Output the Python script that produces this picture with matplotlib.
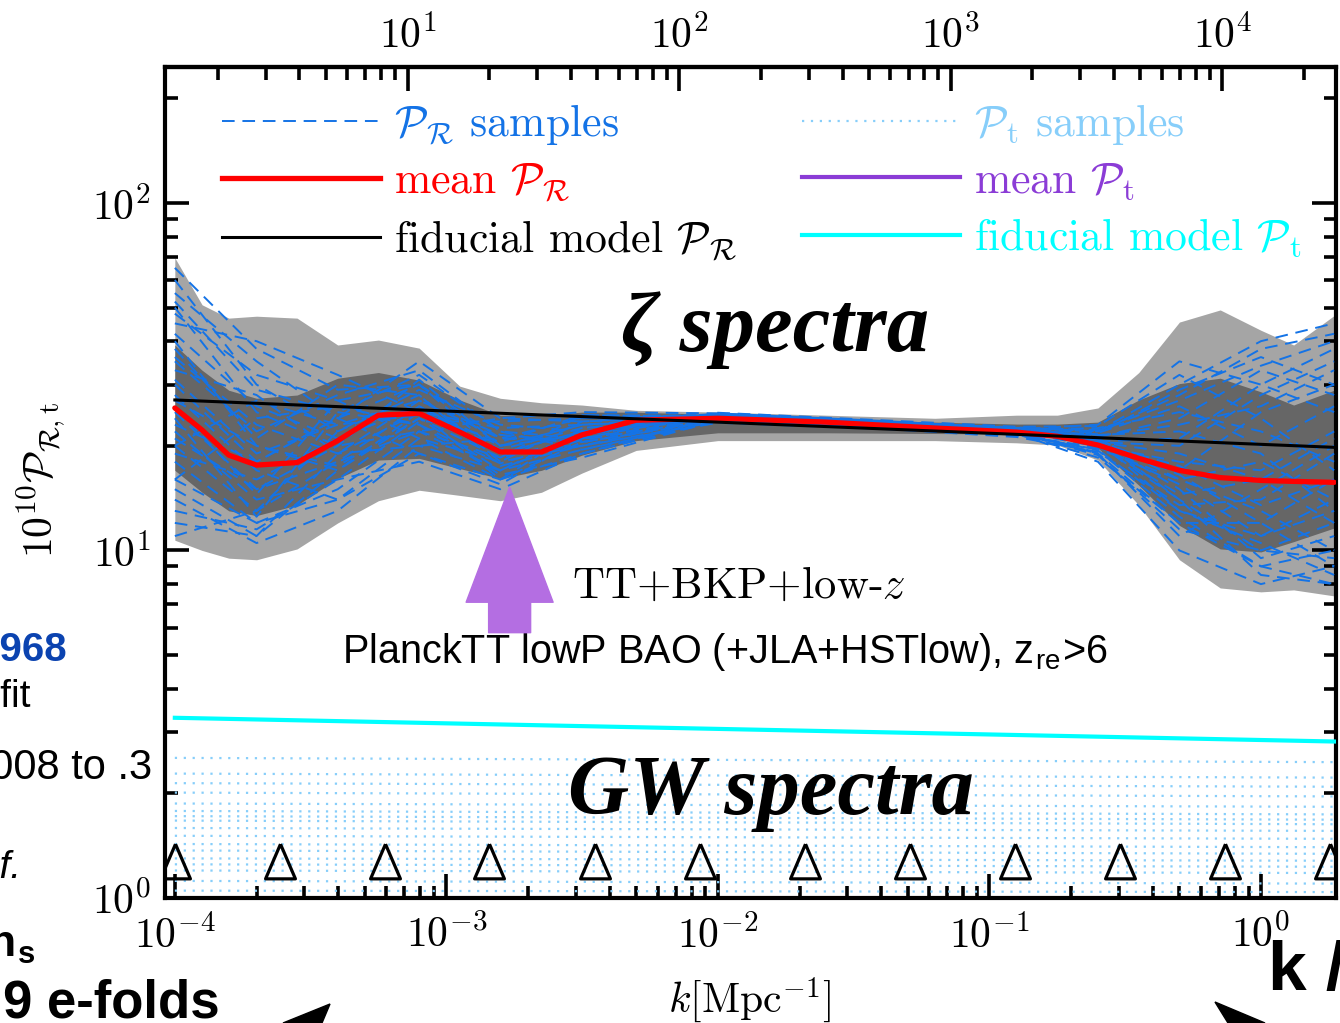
import numpy as np
import matplotlib.pyplot as plt
from matplotlib.lines import Line2D
from matplotlib.patches import Polygon

plt.rcParams['font.family'] = ['cmr10', 'DejaVu Serif']
plt.rcParams['mathtext.fontset'] = 'cm'
plt.rcParams['axes.formatter.use_mathtext'] = True

# ---- data ----
# shaded credible bands of P_R (x 1e10)
band_k = [1.0e-4, 1.26e-4, 1.58e-4, 2.0e-4, 2.82e-4, 3.98e-4, 5.62e-4, 7.94e-4, 1.12e-3,
          1.58e-3, 2.24e-3, 3.16e-3, 5.0e-3, 1.0e-2, 2.5e-2, 6.3e-2, 0.126, 0.178, 0.251,
          0.355, 0.501, 0.708, 1.0, 1.32, 1.86]
outer_hi = [69.5, 50.9, 46.6, 47.2, 46.6, 39.0, 40.3, 38.2, 29.7, 27.4, 26.6, 26.2, 25.3,
            25.0, 24.5, 24.0, 24.5, 24.5, 25.7, 32.5, 45.4, 49.2, 43.0, 39.0, 47.4]
outer_lo = [10.7, 10.0, 9.5, 9.4, 10.1, 12.0, 13.9, 14.9, 14.4, 13.9, 14.7, 16.7, 19.4,
            20.7, 20.7, 20.7, 20.4, 20.1, 18.2, 13.5, 9.4, 7.8, 7.6, 7.7, 7.4]
inner_hi = [39.0, 33.0, 28.9, 27.4, 28.0, 31.3, 32.5, 30.9, 27.1, 24.5, 24.5, 25.0, 25.0,
            24.6, 24.0, 23.4, 23.1, 23.1, 23.4, 27.1, 30.2, 31.3, 28.6, 26.2, 28.9]
inner_lo = [17.0, 14.7, 13.0, 12.6, 13.5, 16.1, 18.2, 18.4, 17.2, 16.1, 17.0, 18.8, 20.7,
            21.8, 21.8, 21.7, 21.6, 21.3, 19.7, 15.4, 11.8, 10.1, 9.9, 10.6, 11.6]
mean_pr = [25.7, 22.2, 18.8, 17.6, 17.9, 20.7, 24.5, 24.8, 21.9, 19.2, 19.2, 21.5, 23.7,
           24.0, 23.4, 22.5, 21.9, 21.3, 20.1, 18.4, 17.0, 16.2, 15.9, 15.8, 15.7]

# individual P_R samples
samp_k = [1e-4, 2e-4, 3.98e-4, 7.94e-4, 1.58e-3, 3.16e-3, 1e-2, 3.98e-2, 0.126, 0.251, 0.501, 1.0, 1.86]
pr_samples = [
    [60, 30, 22, 28, 18, 20, 24.5, 23.5, 22.5, 22, 30, 40, 45],
    [18, 12, 15, 22, 17, 22, 24, 23, 22, 21, 14, 10, 12],
    [35, 22, 28, 33, 22, 21, 24.2, 23.2, 22, 19, 12, 9, 8],
    [25, 15, 18, 26, 20, 23, 23.8, 22.8, 21.8, 20.5, 20, 28, 35],
    [45, 40, 32, 25, 16, 19, 24.3, 23, 21.5, 19.5, 13, 11, 14],
    [14, 10.5, 13, 20, 21, 24, 24.6, 23.4, 22.2, 22.5, 25, 22, 18],
    [30, 18, 24, 30, 19, 20, 23.5, 22.6, 21.7, 18, 10, 8, 9],
    [22, 14, 16, 18, 15, 19, 23.6, 22.7, 22.3, 23, 35, 30, 25],
    [50, 25, 20, 22, 24, 25, 24.8, 23.6, 22.4, 21, 16, 13, 10],
    [12, 11, 19, 27, 21, 20.5, 23.9, 23.1, 22.1, 20, 18, 17, 22],
    [40, 20, 17, 24, 17, 21.5, 24.1, 22.9, 21.9, 19, 11, 15, 20],
    [20, 13, 22, 29, 23, 22, 24.4, 23.3, 22.6, 22, 28, 38, 42],
    [28, 17, 14, 21, 18, 23.5, 24.7, 23.5, 22.2, 20.8, 15, 9.5, 11],
    [16, 24, 26, 23, 16.5, 18.5, 23.7, 22.9, 21.6, 18.5, 12, 12, 16],
    [33, 28, 19, 25, 20.5, 24.5, 24.2, 23.2, 22.3, 21.5, 22, 19, 13],
    [24, 12.5, 25, 32, 22, 19.5, 23.4, 22.5, 21.4, 19.8, 17, 25, 30],
    [55, 35, 24, 19, 15.5, 21, 24.9, 23.7, 22.7, 22.8, 32, 24, 17],
    [19, 16, 21, 26, 19.5, 22.5, 24, 23, 22, 20.2, 14, 8.5, 8],
    [38, 21, 30, 28, 17.5, 20, 23.3, 22.4, 21.2, 19.2, 13.5, 14, 19],
    [13, 11.5, 16, 23.5, 23.5, 24, 24.5, 23.4, 22.5, 21.2, 24, 33, 28],
    [27, 20, 17.5, 24, 18.5, 21, 23.9, 23, 22, 20.5, 19, 16, 12],
    [48, 32, 27, 21, 16, 22.5, 24.3, 23.1, 21.8, 18.8, 11.5, 10, 9.5],
    [21, 15, 20, 31, 20, 23, 24.1, 23.3, 22.4, 21.8, 26, 20, 26],
    [31, 19, 23, 27, 21.5, 20.5, 23.6, 22.6, 21.5, 19.6, 16, 18, 14],
    [42, 26, 21, 26, 19, 22, 24.1, 23.2, 22.1, 20.6, 21, 30, 38],
    [16, 12, 14, 19, 16, 20.5, 23.8, 22.8, 21.7, 19.4, 12.5, 9, 10],
    [65, 38, 29, 30, 20, 21.5, 24.6, 23.5, 22.5, 22.2, 27, 34, 40],
    [23, 18, 24, 35, 24, 23.5, 24.2, 23.2, 22.2, 20.9, 16.5, 12, 9],
    [11, 13, 18, 22, 18.5, 24.5, 24.4, 23.3, 22.1, 21.4, 23, 26, 33],
    [36, 23, 19, 20, 17, 19.5, 23.7, 22.8, 21.9, 20.1, 14.5, 16, 21],
    [26, 14.5, 27, 30, 21, 21, 24.0, 23.0, 22.0, 19.9, 15.5, 11, 13],
    [20, 27, 23, 24.5, 19, 22, 24.2, 23.1, 21.9, 21.6, 29, 36, 30],
    [52, 29, 25, 23, 17.8, 20.8, 23.9, 22.9, 21.8, 20.3, 17.5, 13.5, 16],
    [15, 11, 17, 25, 22.5, 23, 24.3, 23.3, 22.3, 20.7, 13, 10.5, 8.5],
]

# fiducial power laws (straight lines in log-log)
fid_k = [1e-4, 1.86]
fid_pr = [27.1, 19.8]
fid_pt = [3.30, 2.82]

# tensor samples (nearly flat), value at left and right end
pt_left = [2.53, 2.28, 2.14, 2.01, 1.87, 1.78, 1.72, 1.67, 1.59, 1.51, 1.43, 1.37, 1.30, 1.25, 1.20, 1.12, 1.05]
pt_right = [2.46, 2.22, 2.09, 1.96, 1.83, 1.74, 1.68, 1.63, 1.56, 1.48, 1.40, 1.34, 1.28, 1.23, 1.18, 1.10, 1.04]

# spline knot positions (triangles)
knot_k = [1.0e-4, 2.44e-4, 5.93e-4, 1.44e-3, 3.52e-3, 8.58e-3, 2.09e-2, 5.09e-2, 0.124, 0.303, 0.736, 1.79]
knot_p = 1.274

chi_star = 13900.0  # Mpc, ell = k * chi

c_blue = '#1473e6'
c_light = '#87cefa'
c_purple = '#8b3cd6'

fig = plt.figure(figsize=(13.4, 10.23), dpi=100)
ax = fig.add_axes([165 / 1340, 1 - 898 / 1023, 1171 / 1340, 831 / 1023])
ax.set_xscale('log')
ax.set_yscale('log')

ax.fill_between(band_k, outer_lo, outer_hi, color='#a5a5a5', lw=0, zorder=1)
ax.fill_between(band_k, inner_lo, inner_hi, color='#666666', lw=0, zorder=2)

for s in pr_samples:
    ax.plot(samp_k, s, color=c_blue, lw=1.4, ls=(0, (6.5, 4)), zorder=3)
for a, b in zip(pt_left, pt_right):
    ax.plot(fid_k, [a, b], color=c_light, lw=1.6, ls=(0, (1, 3)), zorder=3)

ax.plot(band_k, mean_pr, color='red', lw=3.8, zorder=5, solid_capstyle='round')
ax.plot(fid_k, fid_pr, color='black', lw=2.2, zorder=6)
ax.plot(fid_k, fid_pt, color='cyan', lw=3.0, zorder=6)

tri = [(0, 1), (-0.86, -1), (0.86, -1), (0, 1)]
ax.plot(knot_k, [knot_p] * len(knot_k), ls='none', marker=tri, ms=25, mfc='none',
        mec='black', mew=2.3, zorder=7)

ax.set_xlim(9.2e-5, 1.89)
ax.set_ylim(1, 246)

for sp in ax.spines.values():
    sp.set_linewidth(3)
ax.tick_params(axis='both', which='both', direction='in', width=2.6, labelsize=30)
ax.tick_params(axis='x', which='both', top=False, pad=12)
ax.tick_params(axis='y', which='both', right=True, pad=10)
ax.tick_params(which='major', length=17)
ax.tick_params(which='minor', length=9)

secax = ax.secondary_xaxis('top', functions=(lambda k: k * chi_star, lambda l: l / chi_star))
secax.tick_params(which='both', direction='in', width=2.6, labelsize=30, pad=8)
secax.tick_params(which='major', length=17)
secax.tick_params(which='minor', length=9)
secax.spines['top'].set_linewidth(3)

ax.set_xlabel(r'$k[\mathrm{Mpc}^{-1}]$', fontsize=30)
ax.xaxis.set_label_coords(0.4996, -0.093)
ax.set_ylabel(r'$10^{10}\mathcal{P}_{\mathcal{R},\mathrm{t}}$', fontsize=30)
ax.yaxis.set_label_coords(-0.084, 0.503)

handles = [
    Line2D([], [], color=c_blue, lw=1.4, ls=(0, (6.5, 4))),
    Line2D([], [], color='red', lw=3.8),
    Line2D([], [], color='black', lw=2.2),
    Line2D([], [], color=c_light, lw=1.6, ls=(0, (1, 3))),
    Line2D([], [], color=c_purple, lw=3.0),
    Line2D([], [], color='cyan', lw=3.0),
]
labels = [r'$\mathcal{P}_\mathcal{R}$ samples', r'mean $\mathcal{P}_\mathcal{R}$',
          r'fiducial model $\mathcal{P}_\mathcal{R}$', r'$\mathcal{P}_\mathrm{t}$ samples',
          r'mean $\mathcal{P}_\mathrm{t}$', r'fiducial model $\mathcal{P}_\mathrm{t}$']
leg = ax.legend(handles, labels, ncol=2, loc='upper left', bbox_to_anchor=(0.0487, 0.958),
                frameon=False, fontsize=31.5, handlelength=3.6, handletextpad=0.33,
                columnspacing=1.5, labelspacing=0.33, borderpad=0, borderaxespad=0,
                labelcolor=[c_blue, 'red', 'black', c_light, c_purple, 'cyan'])

ax.text(0.521, 0.683, 'ζ spectra', transform=ax.transAxes, ha='center', va='center',
        fontsize=61, fontweight='bold', fontstyle='italic', family=['Liberation Serif'])
ax.text(0.5175, 0.126, 'GW spectra', transform=ax.transAxes, ha='center', va='center',
        fontsize=61, fontweight='bold', fontstyle='italic', family=['Liberation Serif'], zorder=8)
ax.text(0.3476, 0.374, r'TT+BKP+low-$z$', transform=ax.transAxes, ha='left', va='center',
        fontsize=32)
ax.text(0.478, 0.296, r'PlanckTT lowP BAO (+JLA+HSTlow), z$_\mathregular{re}$>6',
        transform=ax.transAxes, ha='center', va='center', fontsize=28.5,
        family=['Liberation Sans'])

# purple arrow pointing at the dip
ax.annotate('', xy=(1.71e-3, 15.2), xytext=(1.71e-3, 5.8),
            arrowprops=dict(arrowstyle='simple,head_length=1.15,head_width=0.87,tail_width=0.42',
                            mutation_scale=72, color='#b46ee2', shrinkA=0, shrinkB=0), zorder=9)

# pieces of the surrounding slide
narrow = ['Liberation Sans Narrow', 'Liberation Sans']
fig.text(67 / 1340, 1 - 650 / 1023, '0.968', ha='right', va='center', fontsize=29,
         fontweight='bold', color='#0b43b0', family=['Liberation Sans'])
fig.text(30 / 1340, 1 - 697 / 1023, 'best fit', ha='right', va='center', fontsize=28, family=narrow)
fig.text(152 / 1340, 1 - 768 / 1023, 'r from .0008 to .3', ha='right', va='center', fontsize=30,
         family=narrow)
fig.text(22 / 1340, 1 - 868 / 1023, 'cf.', ha='right', va='center', fontsize=28,
         fontstyle='italic', family=narrow)
fig.text(35 / 1340, 1 - 945 / 1023, r'n$_\mathregular{s}$', ha='right', va='center', fontsize=32,
         fontweight='bold', family=['Liberation Sans'])
fig.text(220 / 1340, 1 - 1003 / 1023, '9 e-folds', ha='right', va='center', fontsize=38,
         fontweight='bold', family=['Liberation Sans'])
fig.text(1268 / 1340, 1 - 972 / 1023, 'k / Mpc', ha='left', va='center', fontsize=50,
         fontweight='bold', family=['Liberation Sans'])
fig.add_artist(Polygon([(283 / 1340, 0.0), (330 / 1340, 1 - 1004 / 1023), (322 / 1340, 0.0)],
                       closed=True, color='black', transform=fig.transFigure))
fig.add_artist(Polygon([(1215 / 1340, 1 - 1002 / 1023), (1265 / 1340, 0.0), (1228 / 1340, 0.0)],
                       closed=True, color='black', transform=fig.transFigure))

fig.savefig('out.png', dpi=100)
